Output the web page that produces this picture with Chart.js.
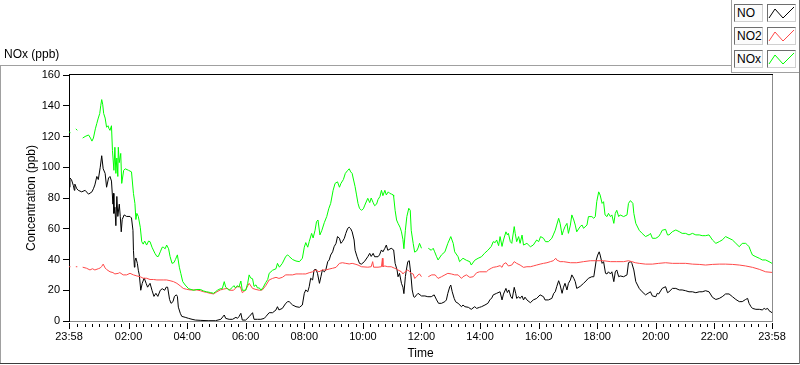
<!DOCTYPE html>
<html>
<head>
<meta charset="utf-8">
<script src="https://cdn.jsdelivr.net/npm/chart.js@4.4.1/dist/chart.umd.min.js"></script>
<style>
  html, body { margin:0; padding:0; background:#ffffff; }
  #wrap { position:relative; width:800px; height:365px; overflow:hidden; font-family:"Liberation Sans", Arial, sans-serif; color:#000; }
  #chart { position:absolute; left:0; top:0; width:800px; height:365px; }
  .ln { position:absolute; }
  #cap { position:absolute; left:4px; top:47px; font-size:12px; line-height:14px; white-space:nowrap; }
  .lgLabel, .lgSample { position:absolute; box-sizing:border-box; width:29px; height:18px; border:1px solid; border-color:#6e6e6e #d0d0d0 #d0d0d0 #6e6e6e; }
  .lgLabel { left:734px; background:#fbfbfb; font-size:12px; line-height:16px; padding-left:2px; white-space:nowrap; }
  .lgSample { left:767px; background:#ffffff; }
  .lgSample svg { position:absolute; left:0; top:0; }
</style>
</head>
<body>
<div id="wrap">
  <canvas id="chart" width="800" height="365"></canvas>
  <div class="ln" style="left:0;top:65px;width:731px;height:1px;background:#a0a0a0"></div>
  <div class="ln" style="left:0;top:65px;width:1px;height:298px;background:#a0a0a0"></div>
  <div class="ln" style="left:0;top:363px;width:800px;height:1px;background:#3c3c3c"></div>
  <div class="ln" style="left:799px;top:0;width:1px;height:364px;background:#7a7a7a"></div>
  <div class="ln" style="left:731px;top:0;width:1px;height:72px;background:#a0a0a0"></div>
  <div class="ln" style="left:731px;top:72px;width:68px;height:1px;background:#a0a0a0"></div>
  <div id="cap">NOx (ppb)</div>
  <div id="legend"></div>
</div>
<script>
// ---------------- data (minutes after 23:58 start) ----------------
const seriesNames  = ['NO', 'NO2', 'NOx'];
const seriesColors = ['#000000', '#ff4848', '#00ff00'];

const noTimes = [
  0,2,5,9,11,12,16,19,26,33,
  40,47,50,53,57,60,64,67,70,74,
  77,81,84,87,90,91,92,94,96,98,
  100,103,105,107,109,113,118,125,128,131,
  132,134,135,137,140,142,144,147,150,154,
  158,161,166,170,174,178,182,187,191,196,
  199,202,206,209,213,216,220,222,224,228,
  231,238,245,252,259,270,285,300,311,318,
  321,328,335,342,345,348,352,355,362,369,
  376,379,386,393,400,403,410,417,424,427,
  430,437,444,448,451,458,465,472,478,482,
  485,489,492,495,499,502,506,509,513,516,
  519,523,526,530,533,536,540,543,547,550,
  554,557,560,564,567,571,574,577,580,584,
  586,590,595,599,605,612,616,619,623,626,
  633,636,640,643,647,650,653,660,665,668,
  672,674,677,681,684,686,689,691,694,697,
  700,703,706,708,712,715,722,729,735,742,
  748,753,757,763,770,773,776,780,782,785,
  789,792,797,804,807,811,818,824,831,835,
  841,845,852,858,862,866,869,876,883,887,
  890,895,898,901,905,908,912,915,917,921,
  924,928,931,934,938,945,951,958,965,972,
  975,982,989,993,996,999,1003,1006,1010,1013,
  1016,1020,1023,1027,1030,1034,1037,1040,1047,1054,
  1061,1064,1071,1075,1080,1083,1086,1088,1092,1095,
  1099,1102,1105,1109,1112,1116,1119,1122,1126,1129,
  1136,1143,1146,1150,1153,1157,1161,1168,1174,1181,
  1188,1191,1195,1202,1205,1208,1215,1222,1226,1229,
  1236,1243,1250,1256,1263,1270,1277,1284,1291,1297,
  1304,1311,1318,1325,1332,1338,1345,1352,1359,1366,
  1373,1379,1386,1390,1393,1397,1400,1407,1414,1420,
  1424,1427,1431,1434,1440
];
const noValues = [
  87,93,92,88,85,89,86,85,84,85,
  82.5,84,86,88.5,94,92,100,107.5,99,96,
  87,93,94,91,76,83,70,74,62,81,
  68,76,68,58,66,69,68,68,67,59,
  46,35,39,41,37.5,33,30,20,24.5,28,
  24.5,22,24.5,20,16,18,16,20,21,20,
  22,22,14,11.5,12.6,16,17,16,9,5,
  3,2.4,1.7,1.1,0.6,0.4,0.2,0.2,1.1,3.9,
  1.7,1.1,1.1,2.4,1.7,2.8,5,0.6,0.6,2.8,
  5.4,1.1,1.1,1.1,1.7,2.8,5.4,5.4,7.2,9.3,
  7.2,8.2,11.5,12.6,12.6,10.4,9.3,8.9,10.4,18,
  20.2,19,22.3,27.8,26.7,33.2,33.6,31,24.5,28.8,
  33.2,32,33.2,38.6,39.7,42.9,45,48.3,50.5,54.9,
  53.8,50.5,51.6,53.8,57,60.3,61,60,58,52.7,
  46,41.8,37.5,37,38.6,41.8,44,42,44,41.8,
  41.8,43,46.2,45,47.3,49.4,46,47.3,46.2,37.5,
  33.2,28.8,31,24.5,22,17.8,28.8,33.2,38.6,39.2,
  31,20.2,15.8,15.4,17,18,16.3,16.3,15.8,15.8,
  17,13.7,11.5,11.5,12.6,13.7,18,22.3,23.4,19,
  14.7,12.5,11.5,9.3,10.4,9.3,8.9,7.6,9.3,8.2,
  8.9,9.3,10.4,11.5,13.7,15,17,18,19,13.7,
  17.5,21.2,18.5,20.2,15.8,14.6,21.9,18,14.7,15.8,
  14.7,16.3,13.7,15.5,13.7,11.9,13.7,14.7,17,15.8,
  13.7,13.7,14.7,18,19,22.3,26.2,23.4,18,22,
  24.5,20.2,24.5,26.7,30,27.8,25.6,21.2,22.5,24.5,
  26.7,27.8,28.8,28.8,39.7,42.9,45,42.9,37.5,38.6,
  31,30.6,32,30.6,32,25.6,32,33.2,28.8,29.3,
  28.8,30,37.9,38.6,37.5,33.2,25.6,21.2,19,17,
  18.4,19,16.3,15.8,18,17.6,21.2,22.3,18.4,19,
  21.2,21.2,20.2,20.2,19.7,19,19,18.4,19,19,
  19.7,19,15.4,14,14.7,15.8,17.6,17.6,15.8,14,
  12.6,12.6,14,14.7,11.5,9.3,8.2,7.6,7.6,7.2,
  8.2,7.6,8.2,6.7,5.4
];

const no2Times = [
  0,3,8,14,17,22,28,36,43,48,
  53,60,64,67,70,74,77,84,90,94,
  101,104,111,118,125,132,139,146,152,159,
  166,173,180,193,200,207,214,221,228,234,
  241,248,262,269,276,282,289,296,303,310,
  317,324,330,337,344,351,355,362,366,369,
  376,383,390,396,403,410,417,424,430,437,
  444,451,458,465,471,478,485,492,499,506,
  512,519,526,533,540,547,554,560,567,574,
  580,586,592,599,612,619,622,624,633,640,
  642,643,647,653,660,667,671,674,681,684,
  688,694,698,701,705,708,712,715,718,722,
  728,736,743,750,753,756,763,770,776,783,
  790,797,804,807,814,821,828,835,841,848,
  855,859,865,869,876,883,887,890,895,900,
  907,912,917,924,931,938,945,951,958,965,
  972,979,986,992,997,999,1006,1013,1027,1040,
  1054,1068,1081,1095,1109,1122,1136,1146,1153,1160,
  1168,1181,1195,1208,1222,1236,1250,1263,1277,1291,
  1304,1318,1332,1345,1359,1373,1386,1400,1414,1427,
  1440
];
const no2Values = [
  35.3,35.3,null,35.3,35.3,null,35,34.3,33.2,34,
  33.2,34,34.5,35.5,37,34.5,33.5,32,31.5,30.6,
  31,31.5,30,30,31,30,29.3,28.8,27.8,27.8,
  27,27,26.7,26.7,26.7,26.2,25.6,24.5,22.8,21.2,
  20.6,20.2,20.2,19.7,19,18.6,18,17.6,19,20.2,
  20.8,21.2,20,20,22.3,22.3,18.4,20.2,22.8,24.5,
  21.2,20.5,20,20.2,23,26.7,27.7,28.4,27.7,28.4,
  30,30,30,30.6,30.6,30.6,30.6,31.4,32,33.2,
  32,33.2,33.2,33.8,34.3,34.9,37.5,37.9,37.5,37.1,
  37.5,37,36.4,35.3,35,35.3,38.6,35,35,35.3,
  40.8,35.3,35.8,35.3,35.3,34.3,33.8,33.2,32,30.6,
  32,33.2,32,31,30.6,27.7,28.8,30,30.6,28.8,
  null,28.8,30,30,28.8,27.7,28.8,30,31,30.6,
  30,30,27.7,28.8,30,28.4,28.8,31.4,32,32,
  32,33.2,34.3,34.9,35.3,36,34.9,37,37.9,35.8,
  36.4,38.6,37.5,36.4,34.9,35.3,35.3,35.8,36.4,37,
  37.5,37.9,38.6,39.2,40.8,39.7,38.6,38.6,37.9,37.9,
  38.6,39.2,39.2,39.2,38.6,38.6,38.6,39.2,38.6,37.9,
  37.5,37,37,37.5,37.9,37.5,37.5,37.5,37,36.8,
  36.4,36.8,37,37,36.8,36.4,35.8,34.9,33.6,32,
  31.6
];

const noxTimes = [
  0,3,8,14,17,22,28,33,40,44,
  47,50,54,57,60,63,65,67,69,71,
  74,77,80,82,84,87,89,92,94,96,
  98,100,101,103,106,108,112,115,122,128,
  132,135,137,139,142,146,149,152,155,159,
  163,166,170,176,180,183,187,191,193,197,
  200,204,207,211,215,218,222,226,229,233,
  238,245,255,262,269,276,282,290,296,300,
  304,310,314,318,321,328,335,338,341,345,
  348,352,355,362,366,369,372,376,379,383,
  386,390,393,398,403,407,410,417,424,427,
  431,437,444,448,451,458,465,472,478,482,
  485,489,492,497,500,504,507,510,514,518,
  523,528,532,536,541,545,550,554,557,562,
  566,571,574,577,580,582,586,589,592,595,
  599,603,606,612,616,619,623,626,630,633,
  637,640,643,647,650,654,657,661,664,665,
  668,671,674,678,681,684,686,689,692,696,
  699,701,705,708,712,715,718,722,728,736,
  742,746,749,753,756,763,770,776,782,787,
  790,797,800,807,814,821,824,831,838,845,
  851,858,865,869,873,876,880,883,887,890,
  895,898,900,904,907,912,914,917,921,924,
  928,931,938,945,951,958,962,966,972,976,
  982,989,992,996,999,1003,1006,1010,1013,1016,
  1020,1023,1027,1030,1034,1037,1040,1047,1051,1054,
  1061,1064,1071,1075,1078,1081,1085,1088,1092,1095,
  1098,1102,1105,1109,1112,1116,1119,1122,1126,1129,
  1136,1143,1146,1150,1155,1157,1161,1168,1174,1181,
  1188,1191,1195,1202,1208,1212,1215,1222,1226,1229,
  1236,1243,1250,1256,1263,1270,1277,1284,1291,1297,
  1304,1311,1318,1325,1332,1338,1345,1352,1359,1366,
  1373,1379,1386,1390,1393,1397,1400,1407,1414,1420,
  1427,1434,1440
];
const noxValues = [
  123,122.5,null,125,124,null,119,120,121,119,
  117,119,125,128.5,132,135,140,144,141,135,
  132,126,127,125,124,127,111,98,113,96,
  106,94,113,103,109,89.5,98,99,98,97,
  83,76.5,66,70,68,61,51.6,50,52,49.4,
  52,51.6,48,44,42,42,45,48,48,47,
  49.4,47,42,37.5,38,40,43,35,31,25.6,
  23.4,21,20,20.5,20.5,19.5,19,18.5,18,19,
  20,21,21,25.6,22,20,22,23,21.5,23,
  22,26,20,20,24.5,30,28,27.5,22.5,23.5,
  21.5,21.5,20,22,25,27,31,33,34,37.5,
  35,37.5,42,43,42,40,39,38.6,40.8,48,
  51,48,51.6,57,54,59,64.6,65.7,56,59,
  64,68,73,76.5,85,89.5,90.5,87,89.5,92,
  96,98,99,97,96,93,87.4,82,76.5,73.3,
  72,73,75.4,79.8,77,80,77,75,76,79,
  81,85,81.5,85,82,84,83,82.5,82,81,
  72,65.7,63.5,61,58,53,47,59,67.9,73.3,
  72,59,50.5,44.8,45.5,47.5,50.5,47.3,null,47.3,
  46,47.3,45,41.8,39.7,43,45,50.5,54.9,50.5,
  45,41.8,38.6,40.8,39.5,38.6,36.4,39.5,40.8,41.8,
  44,46,48.5,51.6,51,52.7,49,54.9,48.5,52.7,
  58,56,57,51.6,50.5,61.4,57,51.6,54.9,50.5,
  55.9,49.4,50.5,48.3,49.4,52.7,51.6,54.9,53.8,51.6,
  51.6,53.8,56,59,62.4,66.8,63.5,55.9,59,61.4,
  63.5,57,62.4,69,65.7,62.4,58,61.4,62.4,60.3,
  62.4,67.9,67.9,66.8,67.9,77.6,84,81.9,76.5,77.6,
  69,67.9,70,67.9,69,63.5,70,72,67.9,69,
  67.9,69,76.5,78.3,76.5,70,63.5,59,57,54.9,
  56,57,53.8,53.8,55,57,59,59.6,56,56,
  58.1,59.2,58.1,57,57,56,57,56,56,55.5,
  55.5,56,52.7,50.5,51.6,52.7,54.9,53.8,52.7,50.5,
  48.3,50.5,50.5,49.4,48.3,45,42.9,41.8,40.8,39.7,
  39.7,38.6,37.5
];

// axis ticks
const xTickValues = [0,122,242,362,482,602,722,842,962,1082,1202,1322,1440];
const xTickLabels = ['23:58','02:00','04:00','06:00','08:00','10:00','12:00','14:00','16:00','18:00','20:00','22:00','23:58'];
const yTickValues = [0,20,40,60,80,100,120,140,160];

// ---------------- legend (DOM) ----------------
const legend = document.getElementById('legend');
seriesNames.forEach((name, i) => {
  const top = 4 + i * 23;
  const lab = document.createElement('div');
  lab.className = 'lgLabel';
  lab.style.top = top + 'px';
  lab.textContent = name;
  legend.appendChild(lab);
  const smp = document.createElement('div');
  smp.className = 'lgSample';
  smp.style.top = top + 'px';
  smp.innerHTML = '<svg width="27" height="16" viewBox="0 0 27 16"><polyline points="1,13 7,4 15,13 26,2" fill="none" stroke="' + seriesColors[i] + '" stroke-width="1"/></svg>';
  legend.appendChild(smp);
});

// ---------------- chart ----------------
Chart.defaults.font.family = '"Liberation Sans", Arial, sans-serif';
Chart.defaults.color = '#000';

const minorTicks = [];
for (let t = 17; t < 1440; t += 15) if (!xTickValues.includes(t)) minorTicks.push(t);

const framePlugin = {
  id: 'frame',
  afterDraw(chart) {
    const { ctx, chartArea: a, scales } = chart;
    const x = scales.x;
    ctx.save();
    ctx.lineWidth = 1;
    ctx.strokeStyle = '#000';
    ctx.beginPath(); ctx.moveTo(a.left, a.top - 0.5); ctx.lineTo(a.right + 1, a.top - 0.5); ctx.stroke();
    ctx.strokeStyle = '#8c8c8c';
    ctx.beginPath(); ctx.moveTo(a.right + 0.5, a.top); ctx.lineTo(a.right + 0.5, a.bottom + 1); ctx.stroke();
    ctx.strokeStyle = '#000';
    ctx.beginPath();
    for (const v of xTickValues) {
      const p = Math.round(x.getPixelForValue(v)) + 0.5;
      ctx.moveTo(p, a.bottom + 2); ctx.lineTo(p, a.bottom + 8);
    }
    for (const v of minorTicks) {
      const p = Math.round(x.getPixelForValue(v)) + 0.5;
      ctx.moveTo(p, a.bottom + 3); ctx.lineTo(p, a.bottom + 6);
    }
    ctx.stroke();
    ctx.restore();
  }
};

const toPts = (ts, vs) => ts.map((t, i) => ({ x: t, y: vs[i] }));

new Chart(document.getElementById('chart'), {
  type: 'line',
  data: {
    datasets: [
      { label: seriesNames[2], data: toPts(noxTimes, noxValues), borderColor: seriesColors[2], order: 0 },
      { label: seriesNames[1], data: toPts(no2Times, no2Values), borderColor: seriesColors[1], order: 1 },
      { label: seriesNames[0], data: toPts(noTimes, noValues), borderColor: seriesColors[0], order: 2 }
    ]
  },
  options: {
    responsive: false,
    animation: false,
    devicePixelRatio: 1,
    spanGaps: false,
    parsing: true,
    layout: { padding: { left: 0, top: 75, right: 28, bottom: 0 } },
    elements: {
      point: { radius: 0, hoverRadius: 0 },
      line: { borderWidth: 1, tension: 0, fill: false }
    },
    plugins: { legend: { display: false }, tooltip: { enabled: false } },
    scales: {
      x: {
        type: 'linear',
        min: 0, max: 1440,
        afterFit: s => { s.height = 44; },
        afterBuildTicks: s => { s.ticks = xTickValues.map(v => ({ value: v })); },
        ticks: {
          autoSkip: false, maxRotation: 0, minRotation: 0,
          padding: 9,
          font: { size: 11 },
          color: '#000',
          callback: v => { const i = xTickValues.indexOf(v); return i >= 0 ? xTickLabels[i] : ''; }
        },
        grid: { drawOnChartArea: false, drawTicks: false },
        border: { color: '#8c8c8c', width: 1 },
        title: { display: true, text: 'Time', font: { size: 12 }, color: '#000', padding: { top: 0, bottom: 4 } }
      },
      y: {
        type: 'linear',
        min: 0, max: 160,
        afterFit: s => { s.width = 69; },
        afterBuildTicks: s => { s.ticks = yTickValues.map(v => ({ value: v })); },
        ticks: { padding: 3, font: { size: 11 }, color: '#000' },
        grid: { drawOnChartArea: false, drawTicks: true, tickLength: 6, tickColor: '#000' },
        border: { color: '#000', width: 1 },
        title: { display: true, text: 'Concentration (ppb)', font: { size: 12 }, color: '#000', padding: { top: 24, bottom: 0 } }
      }
    }
  },
  plugins: [framePlugin]
});
</script>
</body>
</html>
